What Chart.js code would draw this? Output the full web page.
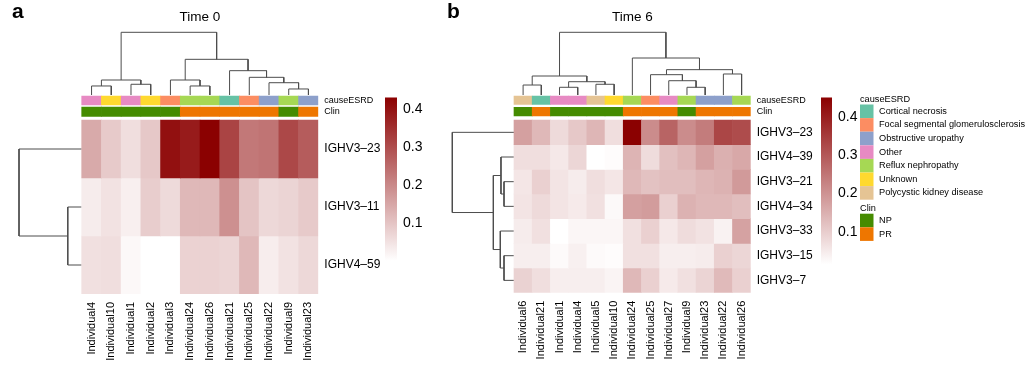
<!DOCTYPE html>
<html>
<head>
<meta charset="utf-8">
<script src="https://cdn.jsdelivr.net/npm/chart.js@4.4.0/dist/chart.umd.min.js"></script>
<style>
  html, body { margin: 0; padding: 0; background: #fff; }
  #wrap { position: relative; width: 1030px; height: 367px; overflow: hidden; }
  canvas { position: absolute; top: 0; }
</style>
</head>
<body>
<div id="wrap">
  <canvas id="panelA" width="440" height="367" style="left:0px"></canvas>
  <canvas id="panelB" width="590" height="367" style="left:440px"></canvas>
  <canvas id="barA"></canvas>
  <canvas id="barB"></canvas>
</div>
<script>
// ---- data ----
const esrdNames = ["Cortical necrosis", "Focal segmental glomerulosclerosis", "Obstructive uropathy",
  "Other", "Reflux nephropathy", "Unknown", "Polycystic kidney disease"];
const esrdColors = ["#66C2A5", "#FC8D62", "#8DA0CB", "#E78AC3", "#A6D854", "#FFD92F", "#E5C494"];
const clinNames = ["NP", "PR"];
const clinColors = ["#458B00", "#EE7600"];

// Time 0
const colsA = ["Individual4", "Individual10", "Individual1", "Individual2", "Individual3", "Individual24",
  "Individual26", "Individual21", "Individual25", "Individual22", "Individual9", "Individual23"];
const rowsA = ["IGHV3–23", "IGHV3–11", "IGHV4–59"];
const valuesA = [
  [0.144, 0.090, 0.056, 0.093, 0.404, 0.385, 0.430, 0.316, 0.228, 0.235, 0.309, 0.275],
  [0.032, 0.049, 0.027, 0.084, 0.062, 0.120, 0.120, 0.187, 0.100, 0.066, 0.073, 0.090],
  [0.053, 0.056, 0.012, 0.000, 0.000, 0.076, 0.076, 0.071, 0.120, 0.030, 0.049, 0.066]
];
const esrdA = ["Other", "Unknown", "Other", "Unknown", "Focal segmental glomerulosclerosis",
  "Reflux nephropathy", "Reflux nephropathy", "Cortical necrosis", "Focal segmental glomerulosclerosis",
  "Obstructive uropathy", "Reflux nephropathy", "Obstructive uropathy"];
const clinA = ["NP", "NP", "NP", "NP", "NP", "PR", "PR", "PR", "PR", "PR", "NP", "PR"];
// dendrograms: [left, right, height] (height relative to root)
const colTreeA = [
  [[0, 1, 0.144], [2, 3, 0.171], 0.239],
  [[4, [5, 6, 0.144], 0.239], [7, [8, [9, [10, 11, 0.096], 0.196], 0.282], 0.388], 0.569],
  1.0
];
const rowTreeA = [0, [1, 2, 0.222], 1.0];
const rangeA = [0, 0.431];
const barAxisA = [-0.018, 0.431];
const ticksA = [0.1, 0.2, 0.3, 0.4];

// Time 6
const colsB = ["Individual6", "Individual21", "Individual1", "Individual4", "Individual5", "Individual10",
  "Individual24", "Individual25", "Individual27", "Individual9", "Individual23", "Individual22", "Individual26"];
const rowsB = ["IGHV3–23", "IGHV4–39", "IGHV3–21", "IGHV4–34", "IGHV3–33", "IGHV3–15", "IGHV3–7"];
const valuesB = [
  [0.177, 0.136, 0.078, 0.109, 0.139, 0.071, 0.450, 0.211, 0.280, 0.211, 0.239, 0.331, 0.321],
  [0.071, 0.071, 0.054, 0.085, 0.015, 0.020, 0.143, 0.074, 0.122, 0.139, 0.177, 0.150, 0.163],
  [0.057, 0.095, 0.061, 0.047, 0.071, 0.057, 0.136, 0.119, 0.126, 0.126, 0.139, 0.146, 0.187],
  [0.061, 0.078, 0.061, 0.050, 0.068, 0.025, 0.177, 0.184, 0.095, 0.146, 0.136, 0.136, 0.126],
  [0.047, 0.068, 0.015, 0.030, 0.030, 0.030, 0.068, 0.095, 0.054, 0.074, 0.064, 0.037, 0.174],
  [0.044, 0.044, 0.023, 0.040, 0.023, 0.020, 0.068, 0.068, 0.044, 0.044, 0.047, 0.095, 0.085],
  [0.092, 0.071, 0.044, 0.044, 0.044, 0.034, 0.136, 0.095, 0.050, 0.068, 0.088, 0.132, 0.095]
];
const esrdB = ["Polycystic kidney disease", "Cortical necrosis", "Other", "Other", "Polycystic kidney disease",
  "Unknown", "Reflux nephropathy", "Focal segmental glomerulosclerosis", "Other", "Reflux nephropathy",
  "Obstructive uropathy", "Obstructive uropathy", "Reflux nephropathy"];
const clinB = ["NP", "PR", "NP", "NP", "NP", "NP", "PR", "PR", "PR", "NP", "PR", "PR", "PR"];
const colTreeB = [
  [[0, 1, 0.159], [[2, 3, 0.123], [4, 5, 0.171], 0.212], 0.303],
  [6, [[7, [8, [9, 10, 0.123], 0.228], 0.324], [11, 12, 0.335], 0.404], 0.590],
  1.0
];
const rowTreeB = [0, [[1, [2, 3, 0.162], 0.211], [4, [5, 6, 0.162], 0.222], 0.335], 1.0];
const rangeB = [0.0145, 0.451];
const barAxisB = [0.0145, 0.451];
const ticksB = [0.1, 0.2, 0.3, 0.4];

// ---- helpers ----
const FONT = '"Liberation Sans", Arial, Helvetica, sans-serif';
const LINE = "#4d4d4d";

function heatColor(v, lo, hi) {
  const t = Math.max(0, Math.min(1, (v - lo) / (hi - lo)));
  const r = Math.round(255 + (139 - 255) * t);
  const g = Math.round(255 * (1 - t));
  return `rgb(${r},${g},${g})`;
}

// walk a dendrogram, return U-shaped segments (leaf position c, height h); null = break
function dendroPoints(tree) {
  const out = [];
  function walk(n) {
    if (typeof n === "number") return { c: n + 0.5, h: 0 };
    const a = walk(n[0]), b = walk(n[1]), h = n[2];
    out.push({ c: a.c, h: a.h }, { c: a.c, h: h }, { c: b.c, h: h }, { c: b.c, h: b.h }, null);
    return { c: (a.c + b.c) / 2, h: h };
  }
  walk(tree);
  return out;
}

function makePanel(id, p) {
  const cv = document.getElementById(id);
  const nC = p.cols.length, nR = p.rows.length;
  const colW = (p.heat.r - p.heat.l) / nC;
  const rowH = (p.heat.b - p.heat.t) / nR;
  const xMin = -(p.heat.l - p.rowDendLeft) / colW;
  const yMin = -(p.heat.t - p.colDendTop) / rowH;
  const toY = px => (px - p.heat.t) / rowH;
  const leafY = toY(p.leafBase);

  const barOpts = { type: "bar", grouped: false, barPercentage: 1, categoryPercentage: 1, borderWidth: 0 };
  const datasets = [];

  p.values.forEach((row, i) => {
    datasets.push(Object.assign({
      data: row.map((v, j) => ({ x: j + 0.5, y: [i, i + 1] })),
      backgroundColor: row.map(v => heatColor(v, p.range[0], p.range[1]))
    }, barOpts));
  });

  p.annos.forEach(a => {
    datasets.push(Object.assign({
      data: a.values.map((c, j) => ({ x: j + 0.5, y: [toY(a.top), toY(a.bottom)] })),
      backgroundColor: a.values.map(c => a.colors[a.names.indexOf(c)])
    }, barOpts));
  });

  const lineOpts = { type: "line", borderColor: LINE, borderWidth: 1, pointRadius: 0, fill: false,
    spanGaps: false, tension: 0, clip: 4 };
  datasets.push(Object.assign({
    data: dendroPoints(p.colTree).map(q => q ? { x: q.c, y: leafY + q.h * (yMin - leafY) } : { x: 0, y: null })
  }, lineOpts));
  datasets.push(Object.assign({
    data: dendroPoints(p.rowTree).map(q => q ? { x: q.h * xMin, y: q.c } : { x: 0, y: null })
  }, lineOpts));

  const textPlugin = {
    id: "panelText",
    afterDraw(chart) {
      const ctx = chart.ctx, xs = chart.scales.x, ys = chart.scales.y, ox = p.ox;
      ctx.save();
      ctx.fillStyle = "#000";
      // panel letter
      ctx.font = "bold 21px " + FONT;
      ctx.textAlign = "left"; ctx.textBaseline = "alphabetic";
      ctx.fillText(p.letter, p.letterX - ox, 18);
      // title
      ctx.font = "13.5px " + FONT;
      ctx.textAlign = "center"; ctx.textBaseline = "middle";
      ctx.fillText(p.title, (p.heat.l + p.heat.r) / 2 - ox, 17);
      // annotation names
      ctx.font = "9px " + FONT;
      ctx.textAlign = "left";
      p.annos.forEach(a => {
        ctx.fillText(a.label, p.heat.r + 6 - ox, ys.getPixelForValue(toY((a.top + a.bottom) / 2)));
      });
      // row labels
      ctx.font = "12px " + FONT;
      p.rows.forEach((r, i) => ctx.fillText(r, p.heat.r + 6 - ox, ys.getPixelForValue(i + 0.5)));
      // column labels
      ctx.font = "11px " + FONT;
      ctx.textAlign = "right";
      p.cols.forEach((c, j) => {
        ctx.save();
        ctx.translate(xs.getPixelForValue(j + 0.5), p.heat.b + 8);
        ctx.rotate(-Math.PI / 2);
        ctx.fillText(c, 0, 0);
        ctx.restore();
      });
      // discrete legend
      if (p.legend) {
        const L = p.legend;
        let y = L.top;
        ctx.textAlign = "left";
        L.groups.forEach(g => {
          ctx.font = "9.2px " + FONT;
          ctx.fillStyle = "#000";
          ctx.fillText(g.title, L.x - ox, y + 5);
          y += 10;
          g.names.forEach((n, k) => {
            ctx.fillStyle = g.colors[k];
            ctx.fillRect(L.x - ox, y, L.sw, L.sh);
            ctx.fillStyle = "#000";
            ctx.fillText(n, L.x + L.sw + 5.5 - ox, y + L.sh / 2);
            y += L.sh;
          });
          y += L.gap;
        });
      }
      ctx.restore();
    }
  };

  return new Chart(cv, {
    type: "bar",
    data: { datasets },
    options: {
      responsive: false,
      animation: false,
      events: [],
      layout: { padding: {
        left: p.rowDendLeft - p.ox,
        right: p.ox + cv.width - p.heat.r,
        top: p.colDendTop,
        bottom: cv.height - p.heat.b
      } },
      plugins: { legend: { display: false }, tooltip: { enabled: false } },
      scales: {
        x: { type: "linear", display: false, offset: false, min: xMin, max: nC },
        y: { type: "linear", display: false, reverse: true, min: yMin, max: nR }
      }
    },
    plugins: [textPlugin]
  });
}

function makeColorbar(id, cb) {
  const PAD = 12, LABW = 40;
  const cv = document.getElementById(id);
  cv.width = cb.r - cb.l + LABW;
  cv.height = cb.b - cb.t + 2 * PAD;
  cv.style.left = cb.l + "px";
  cv.style.top = (cb.t - PAD) + "px";
  return new Chart(cv, {
    type: "bar",
    data: {
      labels: [""],
      datasets: [{
        data: [cb.axis],
        barPercentage: 1, categoryPercentage: 1, borderWidth: 0,
        backgroundColor: ctx => {
          const chart = ctx.chart, ys = chart.scales.y;
          if (!chart.chartArea || !ys) return "#fff";
          const g = chart.ctx.createLinearGradient(0, ys.getPixelForValue(cb.range[0]), 0, ys.getPixelForValue(cb.range[1]));
          g.addColorStop(0, heatColor(cb.range[0], cb.range[0], cb.range[1]));
          g.addColorStop(1, heatColor(cb.range[1], cb.range[0], cb.range[1]));
          return g;
        }
      }]
    },
    options: {
      responsive: false,
      animation: false,
      events: [],
      layout: { padding: { top: PAD, bottom: PAD, left: 0, right: 0 } },
      plugins: { legend: { display: false }, tooltip: { enabled: false } },
      scales: {
        x: { display: false },
        y: {
          position: "right", min: cb.axis[0], max: cb.axis[1],
          grid: { display: false, drawTicks: false }, border: { display: false },
          ticks: { padding: 6, color: "#000", font: { family: FONT, size: 14 }, callback: v => v.toFixed(1) },
          afterBuildTicks: s => { s.ticks = cb.ticks.map(v => ({ value: v })); },
          afterFit: s => { s.width = LABW; }
        }
      }
    }
  });
}

// ---- panels ----
makePanel("panelA", {
  ox: 0, letter: "a", letterX: 12, title: "Time 0",
  cols: colsA, rows: rowsA, values: valuesA, range: rangeA,
  heat: { l: 81.7, r: 318.3, t: 120, b: 294 },
  colDendTop: 32.3, leafBase: 95, rowDendLeft: 19,
  colTree: colTreeA, rowTree: rowTreeA,
  annos: [
    { label: "causeESRD", values: esrdA, names: esrdNames, colors: esrdColors, top: 96, bottom: 105 },
    { label: "Clin", values: clinA, names: clinNames, colors: clinColors, top: 107, bottom: 116.5 }
  ]
});

makePanel("panelB", {
  ox: 440, letter: "b", letterX: 447, title: "Time 6",
  cols: colsB, rows: rowsB, values: valuesB, range: rangeB,
  heat: { l: 514, r: 750.7, t: 120, b: 292.7 },
  colDendTop: 32.3, leafBase: 95, rowDendLeft: 452.3,
  colTree: colTreeB, rowTree: rowTreeB,
  annos: [
    { label: "causeESRD", values: esrdB, names: esrdNames, colors: esrdColors, top: 96, bottom: 104.5 },
    { label: "Clin", values: clinB, names: clinNames, colors: clinColors, top: 107.3, bottom: 116 }
  ],
  legend: {
    x: 860, top: 94.5, sw: 13.5, sh: 13.6, gap: 4,
    groups: [
      { title: "causeESRD", names: esrdNames, colors: esrdColors },
      { title: "Clin", names: clinNames, colors: clinColors }
    ]
  }
});

makeColorbar("barA", { l: 385, r: 397, t: 95, b: 270, axis: barAxisA, range: rangeA, ticks: ticksA });
makeColorbar("barB", { l: 821, r: 832, t: 95, b: 267, axis: barAxisB, range: rangeB, ticks: ticksB });
</script>
</body>
</html>
